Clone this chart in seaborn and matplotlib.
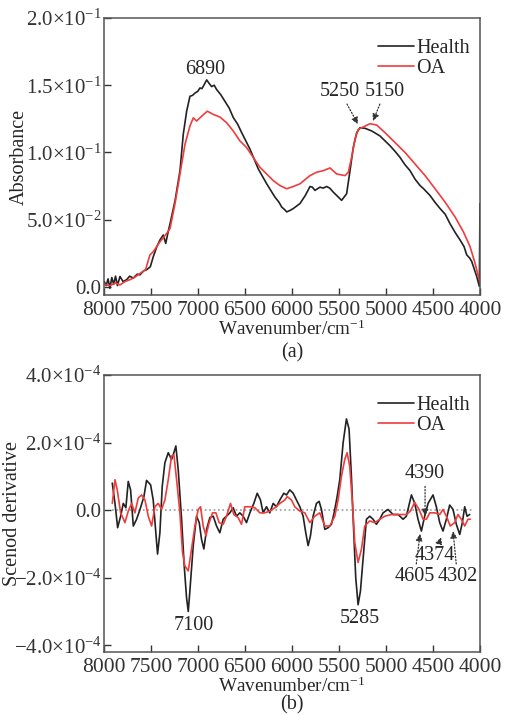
import numpy as np
import pandas as pd
import matplotlib
matplotlib.use("Agg")
import matplotlib.pyplot as plt
import seaborn as sns

# ---- (a) absorbance spectra ----
wn_health_a = [8000, 7980, 7960, 7940, 7920, 7900, 7880, 7860, 7833, 7800, 7762, 7730, 7691, 7650,
               7620, 7580, 7549, 7510, 7478, 7440, 7407, 7372, 7346, 7320, 7300, 7247, 7194, 7159,
               7123, 7088, 7060, 7034, 7005, 6981, 6960, 6940, 6910, 6880, 6857, 6830, 6803, 6760,
               6715, 6670, 6627, 6580, 6537, 6449, 6360, 6271, 6183, 6140, 6111, 6080, 6058, 6020,
               5988, 5917, 5860, 5810, 5785, 5757, 5730, 5704, 5670, 5633, 5600, 5562, 5473, 5420,
               5384, 5349, 5313, 5278, 5224, 5153, 5065, 4958, 4900, 4851, 4800, 4745, 4690, 4638,
               4600, 4532, 4480, 4425, 4370, 4319, 4260, 4212, 4170, 4141, 4110, 4088, 4060, 4035,
               4007, 4000]
health_a = [0.004, 0.001, 0.006, -0.001, 0.007, 0.002, 0.008, 0.001, 0.0078, 0.004, 0.0054, 0.008,
            0.0066, 0.0095, 0.009, 0.012, 0.0128, 0.015, 0.0226, 0.030, 0.035, 0.0386, 0.0324, 0.041,
            0.047, 0.064, 0.0865, 0.1136, 0.1307, 0.1418, 0.1425, 0.1442, 0.1455, 0.148, 0.1475,
            0.150, 0.154, 0.151, 0.149, 0.150, 0.1467, 0.143, 0.138, 0.133, 0.126, 0.121, 0.1147,
            0.1025, 0.0877, 0.0767, 0.0668, 0.063, 0.0594, 0.0575, 0.0558, 0.057, 0.0583, 0.062,
            0.068, 0.0747, 0.0742, 0.0718, 0.073, 0.0742, 0.0735, 0.0747, 0.0735, 0.0705, 0.0644,
            0.0693, 0.0865, 0.1037, 0.1147, 0.1184, 0.118, 0.116, 0.1123, 0.105, 0.1005, 0.0963,
            0.091, 0.0865, 0.080, 0.0754, 0.073, 0.068, 0.063, 0.0583, 0.054, 0.047, 0.040, 0.0349,
            0.030, 0.0238, 0.0215, 0.0189, 0.013, 0.0078, 0.0004, 0.062]

wn_oa_a = [8000, 7940, 7880, 7833, 7780, 7727, 7680, 7620, 7560, 7514, 7478, 7407, 7336, 7300,
           7247, 7194, 7141, 7088, 7052, 7017, 6963, 6903, 6839, 6768, 6697, 6627, 6556, 6485,
           6414, 6343, 6271, 6200, 6130, 6058, 5988, 5917, 5810, 5740, 5668, 5597, 5526, 5437,
           5402, 5367, 5331, 5296, 5242, 5171, 5100, 5011, 4905, 4798, 4691, 4585, 4478, 4372,
           4265, 4177, 4106, 4053, 4000]
oa_a = [0.002, 0.001, 0.003, 0.0015, 0.004, 0.0054, 0.007, 0.010, 0.013, 0.0238, 0.0263, 0.0336,
        0.0398, 0.0435, 0.062, 0.084, 0.106, 0.1197, 0.1258, 0.1234, 0.127, 0.1307, 0.1283,
        0.1263, 0.1221, 0.116, 0.1086, 0.1037, 0.0963, 0.089, 0.084, 0.079, 0.0754, 0.073,
        0.0747, 0.0767, 0.0828, 0.0853, 0.0865, 0.0885, 0.084, 0.0828, 0.0853, 0.0963, 0.1099,
        0.1172, 0.119, 0.1214, 0.1204, 0.1147, 0.1074, 0.100, 0.0914, 0.0828, 0.073, 0.0631,
        0.052, 0.041, 0.030, 0.0177, 0.003]

# ---- (b) second derivative (x 1e-4) ----
wn_health_b = [7915, 7886, 7858, 7826, 7798, 7770, 7745, 7720, 7691, 7656, 7620, 7578, 7550, 7507,
               7479, 7454, 7433, 7408, 7383, 7355, 7319, 7284, 7259, 7238, 7213, 7177, 7149, 7124,
               7106, 7089, 7053, 7018, 6989, 6965, 6940, 6911, 6876, 6840, 6805, 6770, 6734, 6699,
               6663, 6628, 6592, 6557, 6521, 6486, 6450, 6408, 6372, 6337, 6309, 6273, 6238, 6202,
               6167, 6131, 6089, 6060, 6025, 5989, 5954, 5918, 5883, 5855, 5830, 5805, 5777, 5741,
               5713, 5688, 5652, 5617, 5582, 5553, 5521, 5493, 5457, 5422, 5394, 5369, 5344, 5323,
               5298, 5273, 5245, 5209, 5174, 5138, 5103, 5067, 5032, 4979, 4926, 4872, 4819, 4784,
               4730, 4695, 4660, 4624, 4589, 4553, 4500, 4465, 4429, 4394, 4358, 4323, 4287, 4252,
               4216, 4188, 4163, 4138, 4110]
health_b = [0.8, 0.2, -0.52, -0.18, 0.2, 0.07, 0.85, 0.6, -0.47, -0.27, 0.02, 0.4, 0.88, 0.75,
            0.3, -0.57, -1.3, -0.67, 0.7, 1.4, 1.7, 1.5, 1.7, 1.9, 1.2, -0.27, -1.65, -2.6,
            -3.0, -2.4, -1.05, -0.18, -0.37, -0.86, -1.15, -0.57, -0.22, -0.18, -0.47, -0.67,
            -0.27, -0.18, -0.08, 0.07, -0.18, -0.08, -0.18, -0.37, -0.08, 0.2, 0.5, 0.3, -0.08,
            0.1, -0.08, 0.2, 0.1, 0.3, 0.5, 0.45, 0.6, 0.5, 0.3, 0.1, -0.18, -0.67, -1.05, -0.76,
            -0.18, 0.2, 0.26, 0.02, -0.57, -0.52, -0.42, -0.08, 0.4, 0.9, 2.0, 2.7, 2.4, 1.0,
            -0.67, -2.0, -2.8, -2.4, -1.45, -0.27, -0.18, -0.27, -0.42, -0.27, -0.08, 0.02,
            -0.13, -0.13, -0.27, -0.18, 0.45, 0.2, -0.27, -0.62, -0.18, 0.2, 0.45, 0.1, -0.37,
            -0.62, -0.27, 0.15, 0.02, -0.42, -0.72, -0.37, 0.1, -0.18, -0.13]

wn_oa_b = [7915, 7886, 7862, 7826, 7780, 7745, 7709, 7674, 7638, 7603, 7567, 7532, 7496, 7461,
           7426, 7390, 7355, 7319, 7284, 7259, 7230, 7195, 7167, 7142, 7106, 7071, 7035, 7000,
           6975, 6947, 6918, 6883, 6848, 6812, 6777, 6734, 6699, 6656, 6621, 6575, 6539, 6504,
           6450, 6397, 6344, 6291, 6238, 6184, 6131, 6078, 6053, 6007, 5972, 5918, 5865, 5812,
           5759, 5706, 5652, 5599, 5546, 5511, 5475, 5440, 5415, 5387, 5358, 5333, 5298, 5262,
           5227, 5174, 5121, 5067, 5014, 4943, 4855, 4784, 4741, 4695, 4649, 4606, 4571, 4535,
           4482, 4429, 4394, 4358, 4316, 4270, 4234, 4199, 4163, 4128, 4103]
oa_b = [0.2, 0.9, 0.6, -0.08, -0.37, -0.03, 0.2, -0.08, 0.36, 0.45, 0.3, -0.18, -0.47, 0.1,
        0.2, 0.02, 0.3, 0.9, 1.6, 1.64, 0.9, -0.08, -1.25, -1.65, -1.8, -1.15, -0.47, 0.02,
        0.1, -0.47, -0.76, -0.37, -0.08, -0.08, -0.37, -0.42, -0.18, 0.2, -0.13, -0.22, -0.42,
        0.1, 0.1, 0.07, -0.08, -0.08, -0.03, 0.07, 0.2, 0.3, 0.4, 0.3, 0.1, -0.03, -0.08,
        -0.37, -0.18, -0.08, -0.47, -0.47, -0.18, 0.3, 1.0, 1.5, 1.7, 1.3, 0.2, -0.96, -1.55,
        -1.15, -0.47, -0.32, -0.37, -0.27, -0.18, -0.13, -0.13, -0.13, -0.03, 0.23, 0.02,
        -0.27, -0.27, -0.08, -0.08, -0.13, 0.02, -0.18, -0.47, -0.37, -0.13, -0.27, -0.47,
        -0.27, -0.27]

yticks_a = [0, 0.05, 0.10, 0.15, 0.20]
yticklabels_a = ["0.0", r"$5.0{\times}10^{-2}$", r"$1.0{\times}10^{-1}$",
                 r"$1.5{\times}10^{-1}$", r"$2.0{\times}10^{-1}$"]
yticks_b = [-4e-4, -2e-4, 0, 2e-4, 4e-4]
yticklabels_b = [r"$-4.0{\times}10^{-4}$", r"$-2.0{\times}10^{-4}$", "0.0",
                 r"$2.0{\times}10^{-4}$", r"$4.0{\times}10^{-4}$"]
xticks = [8000, 7500, 7000, 6500, 6000, 5500, 5000, 4500, 4000]

sns.set_style("ticks")
plt.rcParams["font.family"] = ["Liberation Serif", "DejaVu Serif"]
plt.rcParams["mathtext.fontset"] = "custom"
plt.rcParams["mathtext.rm"] = "Liberation Serif"
plt.rcParams["mathtext.it"] = "Liberation Serif:italic"
plt.rcParams["font.size"] = 14.5

colors = {"Health": "#222222", "OA": "#f03c3c"}
note_size = 14.5

df_a = pd.concat([
    pd.DataFrame({"wn": wn_health_a, "val": health_a, "group": "Health"}),
    pd.DataFrame({"wn": wn_oa_a, "val": oa_a, "group": "OA"}),
])
df_b = pd.concat([
    pd.DataFrame({"wn": wn_health_b, "val": np.array(health_b) * 1e-4, "group": "Health"}),
    pd.DataFrame({"wn": wn_oa_b, "val": np.array(oa_b) * 1e-4, "group": "OA"}),
])

fig = plt.figure(figsize=(5.05, 7.15), dpi=100)
ax1 = fig.add_axes([0.2065, 0.5874, 0.744, 0.3874])
ax2 = fig.add_axes([0.2065, 0.0881, 0.744, 0.3874])

arrow_kw = dict(arrowstyle="-|>", color="#333333", linestyle=(0, (1, 1.5)),
                lw=0.9, mutation_scale=10, shrinkA=0, shrinkB=0)


def style_axis(ax, yticks, ylabels, ylim, ylabel, label_x):
    ax.set_xlim(8000, 4000)
    ax.set_ylim(*ylim)
    ax.set_xticks(xticks)
    ax.set_yticks(yticks)
    ax.set_yticklabels(ylabels)
    ax.tick_params(direction="in", length=5, width=1, colors="#333333",
                   labelsize=15.5, pad=2)
    ax.tick_params(axis="x", pad=4)
    ax.tick_params(axis="y", labelsize=15)
    for s in ax.spines.values():
        s.set_color("#555555")
        s.set_linewidth(1.1)
    ax.set_xlabel(r"Wavenumber/cm$^{-1}$", fontsize=13.8, labelpad=0)
    ax.set_ylabel(ylabel, fontsize=14.5)
    ax.yaxis.set_label_coords(label_x, 0.5)
    h, l = ax.get_legend_handles_labels()
    ax.legend(h, l, loc="upper right", frameon=False, fontsize=14.5,
              handlelength=1.8, handletextpad=0.1, borderaxespad=0.1,
              labelspacing=0.05, bbox_to_anchor=(1.0, 0.96))


sns.lineplot(data=df_a, x="wn", y="val", hue="group", palette=colors, sort=False,
             estimator=None, lw=1.2, ax=ax1)
style_axis(ax1, yticks_a, yticklabels_a, (-0.006, 0.2), "Absorbance", -0.20)
ax1.text(6925, 0.1617, "6890", ha="center", va="center", fontsize=note_size)
ax1.annotate("5250", xy=(5299, 0.121), xytext=(5490, 0.1455), ha="center", va="center",
             fontsize=note_size, arrowprops=arrow_kw)
ax1.annotate("5150", xy=(5139, 0.1234), xytext=(5011, 0.1455), ha="center", va="center",
             fontsize=note_size, arrowprops=arrow_kw)
fig.text(0.578, 0.507, "(a)", ha="center", va="center", fontsize=14.5)

sns.lineplot(data=df_b, x="wn", y="val", hue="group", palette=colors, sort=False,
             estimator=None, lw=1.2, ax=ax2)
ax2.axhline(0, xmin=0.02, xmax=0.985, color="#999999", ls=":", lw=1.2, zorder=0)
style_axis(ax2, yticks_b, yticklabels_b, (-4.2e-4, 4e-4), "Scenod derivative", -0.219)
ax2.text(7050, -3.41e-4, "7100", ha="center", va="center", fontsize=note_size)
ax2.text(5280, -3.2e-4, "5285", ha="center", va="center", fontsize=note_size)
ax2.annotate("4390", xy=(4585, -0.18e-4), xytext=(4585, 1.08e-4), ha="center", va="center",
             fontsize=note_size, arrowprops=arrow_kw)
ax2.annotate("4605", xy=(4638, -0.7e-4), xytext=(4695, -1.97e-4), ha="center", va="center",
             fontsize=note_size, arrowprops=arrow_kw)
ax2.annotate("4374", xy=(4415, -0.8e-4), xytext=(4479, -1.35e-4), ha="center", va="center",
             fontsize=note_size, arrowprops=arrow_kw)
ax2.annotate("4302", xy=(4287, -0.62e-4), xytext=(4240, -1.97e-4), ha="center", va="center",
             fontsize=note_size, arrowprops=arrow_kw)
fig.text(0.578, 0.0135, "(b)", ha="center", va="center", fontsize=14.5)

fig.savefig("out.png", dpi=100)
